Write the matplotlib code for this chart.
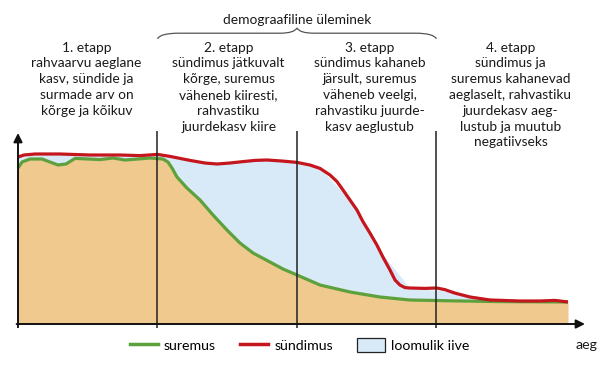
import matplotlib
matplotlib.use("Agg")
import matplotlib.pyplot as plt
import numpy as np
from matplotlib.path import Path
from matplotlib.patches import PathPatch, Patch
from matplotlib.lines import Line2D

plt.rcParams['font.family'] = ['Lato', 'DejaVu Sans']

# aeg (etappide piirid on 1, 2, 3)
t_birth = [0, 0.043, 0.122, 0.301, 0.516, 0.731, 0.875, 1.0, 1.09, 1.233, 1.34, 1.427,
           1.52, 1.613, 1.70, 1.785, 1.89, 2.0, 2.093, 2.165, 2.237, 2.287, 2.33, 2.38,
           2.43, 2.473, 2.523, 2.573, 2.616, 2.667, 2.703, 2.738, 2.774, 2.81, 2.918,
           3.0, 3.06, 3.13, 3.24, 3.384, 3.60, 3.742, 3.85, 3.943]
birth = [41.75, 42.25, 42.5, 42.5, 42.25, 42.25, 42.1, 42.4, 41.9, 40.9, 40.25, 40.0,
         40.25, 40.6, 40.9, 41.0, 40.75, 40.4, 39.75, 38.9, 37.25, 35.6, 33.5, 31.0,
         28.5, 25.6, 22.75, 19.75, 16.75, 13.5, 11.0, 9.75, 9.1, 9.0, 8.9,
         9.0, 8.6, 7.75, 6.75, 6.0, 5.75, 5.75, 5.9, 5.5]

t_death = [0, 0.029, 0.086, 0.172, 0.229, 0.287, 0.344, 0.409, 0.502, 0.588, 0.681,
           0.767, 0.86, 0.946, 1.039, 1.075, 1.104, 1.140, 1.211, 1.305, 1.398, 1.498,
           1.591, 1.685, 1.806, 1.900, 2.0, 2.165, 2.38, 2.595, 2.81, 3.097, 3.455,
           3.943]
death = [39.0, 40.5, 41.25, 41.25, 40.5, 39.75, 40.0, 41.4, 41.25, 41.1, 41.5,
         41.0, 41.25, 41.5, 41.25, 40.5, 39.0, 36.75, 34.0, 31.0, 27.25, 23.5,
         20.25, 17.75, 15.5, 13.75, 12.25, 9.75, 8.0, 6.75, 6.0, 5.8, 5.6,
         5.5]

stage_x = [0.49, 1.51, 2.52, 3.53]
stage_text = [
    "1. etapp\nrahvaarvu aeglane\nkasv, sündide ja\nsurmade arv on\nkõrge ja kõikuv",
    "2. etapp\nsündimus jätkuvalt\nkõrge, suremus\nväheneb kiiresti,\nrahvastiku\njuurdekasv kiire",
    "3. etapp\nsündimus kahaneb\njärsult, suremus\nväheneb veelgi,\nrahvastiku juurde-\nkasv aeglustub",
    "4. etapp\nsündimus ja\nsuremus kahanevad\naeglaselt, rahvastiku\njuurdekasv aeg-\nlustub ja muutub\nnegatiivseks",
]
bounds = [1, 2, 3]

RED = "#c4161c"
GREEN = "#5da13d"
ORANGE = "#f0c98f"
BLUE = "#d8e9f8"
FS = 9.9

fig = plt.figure(figsize=(6, 3.74), dpi=100)
ax = fig.add_axes([18 / 600, 50 / 374, 567 / 600, 191 / 374])
ax.set_xlim(0, 4.065)
ax.set_ylim(0, 47.75)
ax.axis("off")

# loomulik iive (sündimuse ja suremuse vahe) ning suremus
b_on_d = np.interp(t_death, t_birth, birth)
ax.fill_between(t_death, death, b_on_d, color=BLUE, lw=0, zorder=1)
ax.fill_between(t_death, 0, death, color=ORANGE, lw=0, zorder=1)

ax.plot(t_death, death, color=GREEN, lw=2.3, solid_joinstyle="round",
        solid_capstyle="butt", zorder=3)
ax.plot(t_birth, birth, color=RED, lw=2.3, solid_joinstyle="round",
        solid_capstyle="butt", zorder=4)

# etappide piirid
ax.vlines(bounds, -1, 48.3, color="#222222", lw=1.1, clip_on=False, zorder=5)
ax.vlines([0], -1, 0, color="#222222", lw=1.4, clip_on=False, zorder=5)

# teljed
arrow = dict(arrowstyle="-|>", color="#111111", lw=1.4, mutation_scale=13,
             shrinkA=0, shrinkB=0)
ax.annotate("", xy=(0, 47.75), xytext=(0, -0.3), arrowprops=arrow, zorder=6)
ax.annotate("", xy=(4.065, 0), xytext=(-0.01, 0), arrowprops=arrow, zorder=6)

for x, s in zip(stage_x, stage_text):
    ax.text(x, 70.6, s, ha="center", va="top", fontsize=FS, linespacing=1.38,
            color="#1a1a1a", clip_on=False)

ax.text(2.0, 76, "demograafiline üleminek", ha="center", va="center",
        fontsize=FS, color="#1a1a1a", clip_on=False)

# looksulg
verts = [(1.0, 71.3), (1.02, 72.7), (1.15, 72.7), (1.88, 72.7), (1.98, 72.7),
         (2.0, 74.0), (2.02, 72.7), (2.12, 72.7), (2.85, 72.7), (2.98, 72.7),
         (3.0, 71.3)]
codes = [Path.MOVETO, Path.CURVE3, Path.CURVE3, Path.LINETO, Path.CURVE3,
         Path.CURVE3, Path.CURVE3, Path.CURVE3, Path.LINETO, Path.CURVE3,
         Path.CURVE3]
ax.add_patch(PathPatch(Path(verts, codes), fill=False, ec="#555555", lw=0.9,
                       clip_on=False))

handles = [Line2D([], [], color=GREEN, lw=2.5),
           Line2D([], [], color=RED, lw=2.5),
           Patch(facecolor=BLUE, edgecolor="#222222", lw=0.9)]
fig.legend(handles, ["suremus", "sündimus", "loomulik iive"], ncol=3,
           loc="center left", bbox_to_anchor=(130 / 600, 1 - 345 / 374),
           frameon=False, fontsize=10.2, handlelength=1.98, handleheight=1.06,
           handletextpad=0.42, columnspacing=1.7, borderpad=0, borderaxespad=0)
fig.text(586 / 600, 1 - 345 / 374, "aeg", ha="center", va="center",
         fontsize=10.2, color="#1a1a1a")

fig.savefig("out.png", dpi=100)
